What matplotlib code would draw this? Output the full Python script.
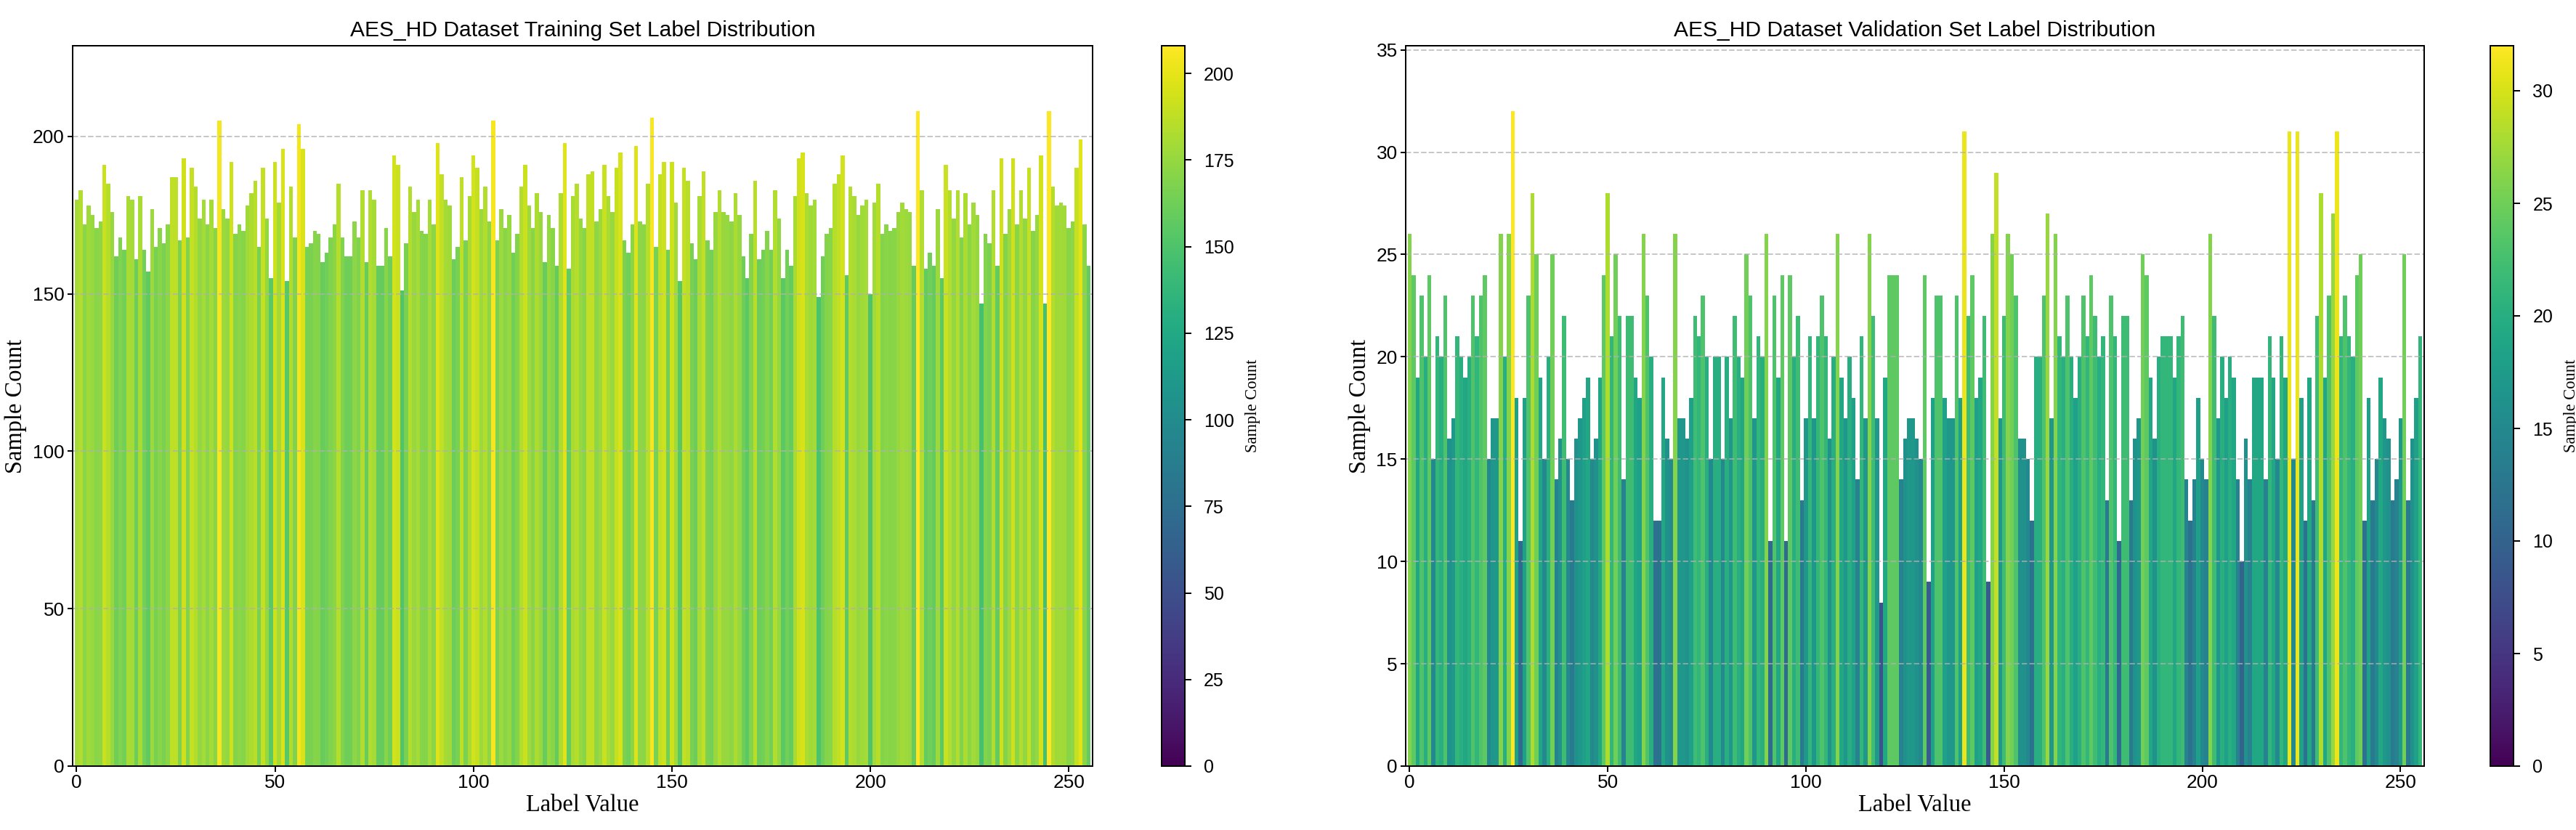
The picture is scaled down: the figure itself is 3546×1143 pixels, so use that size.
import numpy as np
import matplotlib
matplotlib.use("Agg")
import matplotlib.pyplot as plt
from matplotlib import cm, colors

# ---------------- data ----------------
label_values = np.arange(256)

train_counts = [
    180, 183, 172, 178, 175, 171, 173, 191, 185, 176, 162, 168, 164, 181, 180, 161, 181, 164, 157, 177,
    165, 171, 166, 172, 187, 187, 167, 193, 168, 190, 184, 174, 180, 172, 180, 171, 205, 177, 174, 192,
    169, 172, 170,
    178, 182, 186, 165, 190, 174, 155, 192, 179, 196, 154, 184, 168, 204, 196, 165, 166, 170, 169, 160,
    163, 168, 172, 185, 168, 162, 162, 173, 168, 183, 160, 183, 180, 159, 159, 171, 162, 194, 191, 151,
    166, 184, 176, 180,
    170, 169, 180, 172, 198, 188, 180, 178, 161, 165, 187, 167, 181, 194, 190, 177, 184, 173, 205, 167,
    177, 171, 175, 163, 169, 184, 191, 178, 171, 182, 176, 160, 175, 171, 159, 182, 198, 158, 181, 185,
    174, 171, 188,
    189, 173, 177, 191, 181, 176, 190, 195, 167, 163, 172, 197, 173, 172, 185, 206, 165, 188, 192, 164,
    192, 179, 154, 190, 186, 166, 161, 181, 189, 167, 164, 176, 183, 176, 175, 173, 182, 175, 162, 155,
    169, 186, 161,
    164, 170, 164, 183, 174, 155, 164, 159, 181, 193, 195, 182, 178, 180, 149, 162, 169, 171, 185, 188,
    194, 156, 184, 181, 175, 178, 180, 150, 179, 185, 169, 172, 170, 171, 176, 179, 177, 176, 159, 208,
    183, 158, 163,
    159, 177, 155, 191, 183, 174, 183, 168, 182, 172, 179, 175, 147, 169, 166, 183, 159, 193, 169, 177,
    193, 172, 183, 174, 190, 170, 175, 194, 147, 208, 184, 178, 179, 178, 171, 173, 190, 199, 172, 159,
]

val_counts = [
    26, 24, 19, 23, 20, 24, 15, 21, 20, 23, 16, 17, 21, 20, 19, 20, 23, 21, 23, 24,
    15, 17, 17, 26, 20, 26, 32, 18, 11, 18, 23, 28, 25, 19, 15, 20, 25, 14, 16, 22,
    15, 13,
    16, 17, 18, 19, 15, 16, 19, 24, 28, 21, 25, 22, 14, 22, 22, 19, 18, 26, 23, 20,
    12, 12, 19, 16, 15, 26, 17, 17, 16, 18, 22, 21, 23, 20, 15, 20, 20, 15, 20, 17,
    22, 20, 19,
    25, 23, 17, 21, 20, 26, 11, 23, 19, 24, 11, 24, 20, 22, 13, 17, 21, 17, 21, 23,
    21, 16, 20, 26, 19, 17, 20, 18, 14, 21, 17, 26, 22, 17, 8, 19, 24, 24, 24, 14,
    16, 17, 17,
    16, 15, 24, 9, 18, 23, 23, 18, 17, 17, 23, 18, 31, 22, 24, 18, 19, 22, 9, 26,
    29, 17, 22, 26, 25, 23, 16, 16, 15, 12, 20, 20, 23, 27, 17, 26, 21, 20, 23, 20,
    18, 20, 23,
    21, 24, 22, 20, 21, 13, 23, 21, 11, 22, 22, 13, 16, 17, 25, 24, 19, 16, 20, 21,
    21, 21, 19, 21, 22, 14, 12, 14, 18, 15, 14, 26, 22, 17, 20, 18, 20, 19, 14, 10,
    16, 14, 19,
    19, 19, 14, 21, 19, 15, 21, 19, 31, 15, 31, 18, 12, 19, 13, 22, 28, 19, 23, 27,
    31, 21, 23, 21, 20, 24, 25, 12, 18, 13, 15, 19, 17, 16, 13, 14, 17, 25, 13, 16,
    18, 21,
]

titles = ["AES_HD Dataset Training Set Label Distribution",
          "AES_HD Dataset Validation Set Label Distribution"]
x_label = "Label Value"
y_label = "Sample Count"
cbar_label = "Sample Count"

# ---------------- figure ----------------
W, H, DPI = 3546, 1143, 180
plt.rcParams["font.family"] = ["Liberation Sans", "DejaVu Sans"]
SERIF = ["Liberation Serif", "DejaVu Serif"]

fig = plt.figure(figsize=(W / DPI, H / DPI), dpi=DPI)


def frac(x0, x1, y0, y1):
    return [x0 / W, 1 - y1 / H, (x1 - x0) / W, (y1 - y0) / H]


def panel(ax_box, cax_box, counts, title):
    ax = fig.add_axes(frac(*ax_box))
    cmap = plt.get_cmap("viridis")
    norm = colors.Normalize(vmin=0, vmax=max(counts))
    ax.bar(label_values, counts, width=1.0, color=cmap(norm(np.asarray(counts))))
    ax.set_xlim(-1, 256)
    ax.set_ylim(0, max(counts) * 1.1)
    ax.grid(axis="y", linestyle="--", alpha=0.7)
    ax.set_title(title, fontsize=12, pad=5)
    ax.set_xlabel(x_label, family=SERIF, fontsize=13, labelpad=1)
    ax.set_ylabel(y_label, family=SERIF, fontsize=13, labelpad=3)
    ax.tick_params(labelsize=10.5, length=3, pad=1.5)
    cax = fig.add_axes(frac(*cax_box))
    sm = cm.ScalarMappable(norm=norm, cmap=cmap)
    cb = fig.colorbar(sm, cax=cax)
    cb.ax.tick_params(labelsize=10, length=3.5, pad=7)
    cb.set_label(cbar_label, family=SERIF, fontsize=9, labelpad=6)
    return ax


panel((100, 1504, 63, 1055), (1599, 1631, 63, 1055), train_counts, titles[0])
panel((1935, 3337, 63, 1055), (3428, 3460, 63, 1055), val_counts, titles[1])

fig.savefig("out.png", dpi=DPI)
